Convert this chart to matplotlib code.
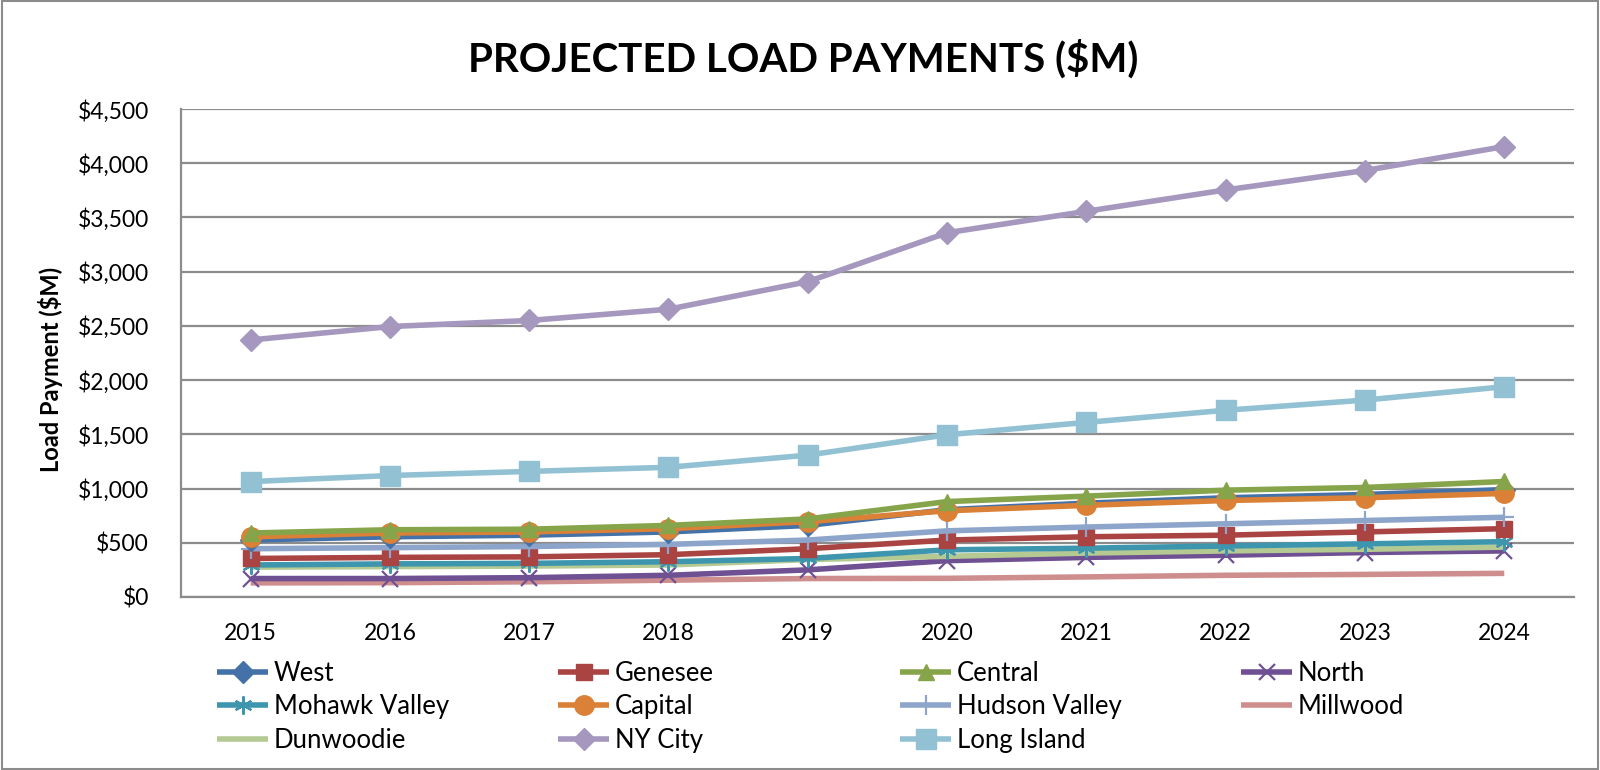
import matplotlib
matplotlib.use("Agg")
import matplotlib.pyplot as plt
from matplotlib.patches import Rectangle
from matplotlib.ticker import FuncFormatter

plt.rcParams['font.family'] = ['Lato', 'DejaVu Sans']

years = [2015, 2016, 2017, 2018, 2019, 2020, 2021, 2022, 2023, 2024]

west = [525, 555, 570, 600, 660, 805, 865, 915, 945, 990]
genesee = [355, 365, 370, 390, 445, 525, 555, 570, 600, 630]
central = [590, 620, 625, 660, 720, 880, 930, 985, 1010, 1065]
north = [170, 170, 178, 200, 250, 335, 365, 385, 410, 425]
mohawk = [295, 305, 310, 325, 355, 435, 450, 470, 490, 510]
capital = [555, 590, 600, 630, 695, 795, 845, 890, 915, 955]
hudson = [445, 455, 465, 485, 525, 610, 645, 675, 705, 735]
millwood = [130, 132, 140, 155, 170, 172, 185, 200, 208, 218]
dunwoodie = [275, 280, 285, 295, 345, 375, 405, 425, 440, 460]
nyc = [2370, 2494, 2550, 2654, 2908, 3359, 3557, 3754, 3933, 4154]
long_island = [1064, 1120, 1158, 1196, 1308, 1496, 1610, 1722, 1816, 1939]

# name, values, colour, marker, marker size
series = [
    ("West", west, "#4472A8", "D", 11),
    ("Genesee", genesee, "#A94442", "s", 12),
    ("Central", central, "#86A44A", "^", 12),
    ("North", north, "#6F5193", "x", 12),
    ("Mohawk Valley", mohawk, "#3D96AE", (6, 2, 0), 13),
    ("Capital", capital, "#DA8137", "o", 14),
    ("Hudson Valley", hudson, "#8EA5CB", "+", 15),
    ("Millwood", millwood, "#CE8E8D", None, 0),
    ("Dunwoodie", dunwoodie, "#B5CA92", None, 0),
    ("NY City", nyc, "#A597BE", "D", 11),
    ("Long Island", long_island, "#92C1D3", "s", 14),
]

fig = plt.figure(figsize=(16, 7.7), dpi=100)
ax = fig.add_axes([0.1131, 0.2247, 0.8706, 0.6337])

x = list(range(len(years)))
handles = {}
draw_order = ["Millwood", "North", "Dunwoodie", "Mohawk Valley", "Genesee",
              "Hudson Valley", "West", "Capital", "Central", "Long Island", "NY City"]
lookup = {s[0]: s for s in series}
for name in draw_order:
    _, vals, col, mk, ms = lookup[name]
    thin = mk in ("x", "+", (6, 2, 0))
    h, = ax.plot(x, vals, color=col, lw=4, marker=mk, ms=ms,
                 mec=col, mfc=col, mew=1.6 if thin else 1,
                 label=name, solid_capstyle="butt", zorder=3)
    handles[name] = h

ax.set_xlim(-0.5, len(years) - 0.5)
ax.set_ylim(0, 4500)
ax.set_yticks(range(0, 4501, 500))
ax.yaxis.set_major_formatter(FuncFormatter(lambda v, p: "${:,.0f}".format(v)))
ax.set_xticks(x)
ax.set_xticklabels([str(y) for y in years])
ax.tick_params(axis="y", length=0, pad=23, labelsize=16.5)
ax.tick_params(axis="x", length=0, pad=19, labelsize=16.5)
ax.grid(axis="y", color="#8C8C8C", lw=1.6, zorder=1)
ax.set_axisbelow(True)
for s in ["top", "right"]:
    ax.spines[s].set_visible(False)
for s in ["left", "bottom"]:
    ax.spines[s].set_color("#8C8C8C")
    ax.spines[s].set_linewidth(1.6)

fig.text(803 / 1600, 1 - 59 / 770, "PROJECTED LOAD PAYMENTS ($M)",
         ha="center", va="center", fontsize=29, fontweight="bold")
fig.text(51 / 1600, 1 - 369 / 770, "Load Payment ($M)", rotation=90,
         ha="center", va="center", fontsize=17, fontweight="bold")

# legend: four columns placed separately so the pitch is even
columns = [["West", "Mohawk Valley", "Dunwoodie"],
           ["Genesee", "Capital", "NY City"],
           ["Central", "Hudson Valley", "Long Island"],
           ["North", "Millwood"]]
col_x = [217, 558, 900, 1241]
for cx, names in zip(col_x, columns):
    fig.legend([handles[n] for n in names], names, loc="upper left",
               bbox_to_anchor=(cx / 1600, 1 - 661 / 770), frameon=False,
               fontsize=18.5, handlelength=2.0, handletextpad=0.2,
               labelspacing=0.33, borderpad=0, borderaxespad=0)

fig.patches.append(Rectangle((0.001, 0.001), 0.998, 0.998, transform=fig.transFigure,
                             fill=False, edgecolor="#8C8C8C", lw=1.5))

fig.savefig("out.png", dpi=100)
